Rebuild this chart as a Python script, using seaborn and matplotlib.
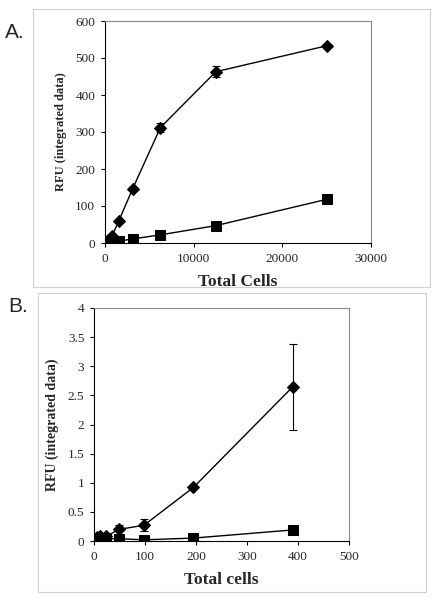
import matplotlib
matplotlib.use("Agg")
import matplotlib.pyplot as plt
import seaborn as sns
import pandas as pd
from matplotlib.patches import Rectangle

# Panel A data
a_cells = [195, 390, 780, 1560, 3125, 6250, 12500, 25000]
a_diamond = [3, 8, 18, 60, 147, 312, 463, 533]
a_diamond_err = [1, 2, 3, 4, 5, 12, 15, 4]
a_square = [0.5, 1, 3, 5, 11, 22, 47, 118]

# Panel B data
b_cells = [6, 12, 24, 49, 98, 195, 390]
b_diamond = [0.07, 0.08, 0.08, 0.20, 0.27, 0.92, 2.65]
b_diamond_err = [0.02, 0.02, 0.02, 0.08, 0.10, 0.02, 0.74]
b_square = [0.04, 0.04, 0.04, 0.04, 0.02, 0.05, 0.19]

sns.set_style("white")
plt.rcParams['font.family'] = ['Liberation Serif', 'DejaVu Serif']

fig = plt.figure(figsize=(4.37, 6), dpi=100)

# Outer light frames
fig.add_artist(Rectangle((33/437, 1-287/600), (430-33)/437, (287-9)/600,
                         transform=fig.transFigure, fill=False, edgecolor='#d0d0d0', lw=0.8))
fig.add_artist(Rectangle((38/437, 1-592/600), (426-38)/437, (592-293)/600,
                         transform=fig.transFigure, fill=False, edgecolor='#d0d0d0', lw=0.8))

fig.text(5/437, 1-33/600, "A.", fontsize=15, family='Liberation Sans', va='center', ha='left')
fig.text(8/437, 1-307/600, "B.", fontsize=15, family='Liberation Sans', va='center', ha='left')

axA = fig.add_axes([105/437, 1-243/600, 266/437, 222/600])
axB = fig.add_axes([94/437, 1-541/600, 255/437, 233/600])


def draw(ax, x, d, derr, s):
    df_d = pd.DataFrame({"x": x, "y": d})
    df_s = pd.DataFrame({"x": x, "y": s})
    ax.errorbar(x, d, yerr=derr, fmt='none', ecolor='black', elinewidth=0.8, capsize=3, capthick=0.8, zorder=2)
    sns.lineplot(data=df_d, x="x", y="y", ax=ax, color='black', lw=1.0, marker='D',
                 markersize=6.5, markeredgecolor='black', markerfacecolor='black', zorder=3)
    sns.lineplot(data=df_s, x="x", y="y", ax=ax, color='black', lw=1.0, marker='s',
                 markersize=7.5, markeredgecolor='black', markerfacecolor='black', zorder=3)
    for sp in ['top', 'right']:
        ax.spines[sp].set_color('#888888')
        ax.spines[sp].set_linewidth(0.8)
    for sp in ['left', 'bottom']:
        ax.spines[sp].set_color('black')
        ax.spines[sp].set_linewidth(0.8)
    ax.tick_params(axis='both', direction='out', length=3, width=0.8, labelsize=9.5, color='black',
                   left=True, bottom=True, pad=4)


draw(axA, a_cells, a_diamond, a_diamond_err, a_square)
axA.set_xlim(0, 30000)
axA.set_ylim(0, 600)
axA.set_xticks([0, 10000, 20000, 30000])
axA.set_yticks([0, 100, 200, 300, 400, 500, 600])
axA.set_xlabel("Total Cells", fontsize=12.5, fontweight='bold', labelpad=7)
axA.set_ylabel("RFU (integrated data)", fontsize=9, fontweight='bold', labelpad=6)

draw(axB, b_cells, b_diamond, b_diamond_err, b_square)
axB.set_xlim(0, 500)
axB.set_ylim(0, 4)
axB.set_xticks([0, 100, 200, 300, 400, 500])
axB.set_yticks([0, 0.5, 1, 1.5, 2, 2.5, 3, 3.5, 4])
axB.set_yticklabels(["0", "0.5", "1", "1.5", "2", "2.5", "3", "3.5", "4"])
axB.set_xlabel("Total cells", fontsize=12.5, fontweight='bold', labelpad=7)
axB.set_ylabel("RFU (integrated data)", fontsize=10, fontweight='bold', labelpad=6)

fig.savefig("out.png", dpi=100)
